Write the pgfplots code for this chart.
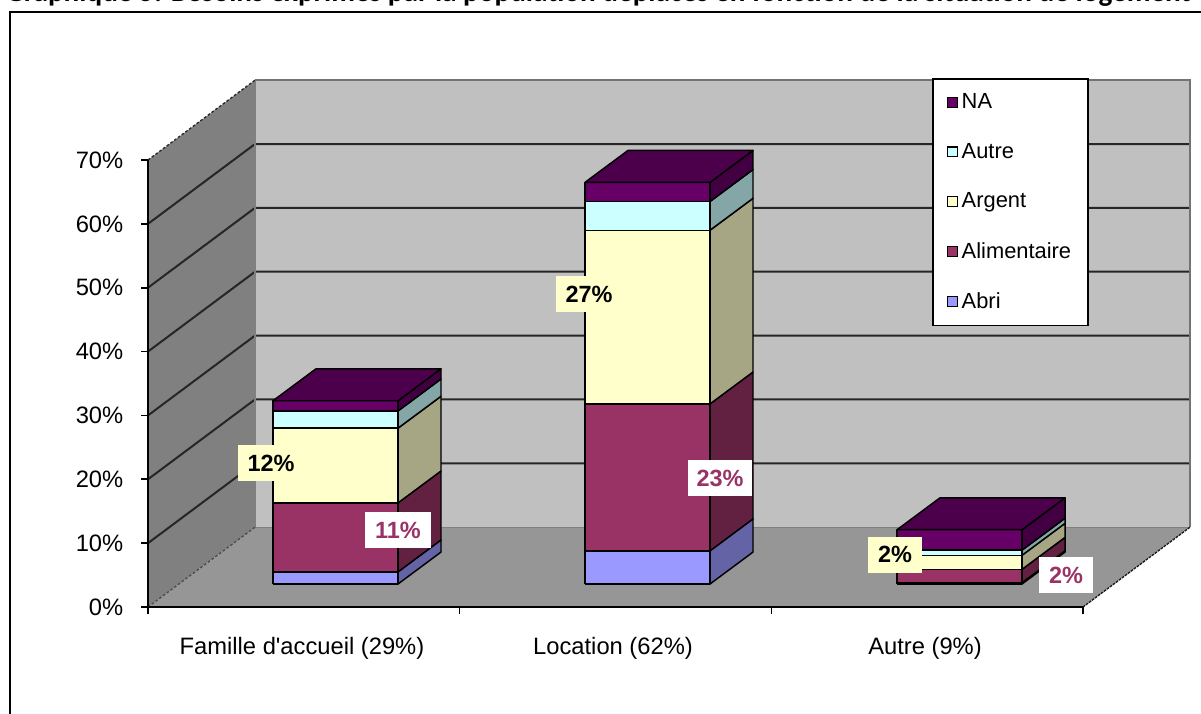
\documentclass[border=0pt]{standalone}
\usepackage{fontspec}
\setmainfont{Liberation Sans}
\newfontfamily\titlefont{Carlito}
\usepackage{pgfplots}
\pgfplotsset{compat=1.18}

\definecolor{abri}{HTML}{9999FF}
\definecolor{alim}{HTML}{993366}
\definecolor{argent}{HTML}{FFFFCC}
\definecolor{autre}{HTML}{CCFFFF}
\definecolor{na}{HTML}{660066}
\definecolor{wallback}{HTML}{C0C0C0}
\definecolor{wallleft}{HTML}{808080}
\definecolor{floorc}{HTML}{969696}

% y data are percents, x data are pixels of the reference
\newcommand{\seg}[4]{%
  \addplot[fill=#4!65!black, draw=black, line width=1.1pt, line join=round, forget plot] coordinates {
    ({#1+125},{#2+3.6}) ({#1+168},{#2+8.6}) ({#1+168},{#3+8.6}) ({#1+125},{#3+3.6}) ({#1+125},{#2+3.6})};
  \addplot[fill=#4, draw=black, line width=1.1pt, line join=round, forget plot] coordinates {
    (#1,{#2+3.6}) ({#1+125},{#2+3.6}) ({#1+125},{#3+3.6}) (#1,{#3+3.6}) (#1,{#2+3.6})};
}
\newcommand{\topface}[2]{%
  \addplot[fill=na!75!black, draw=black, line width=1.1pt, line join=round, forget plot] coordinates {
    (#1,{#2+3.6}) ({#1+125},{#2+3.6}) ({#1+168},{#2+8.6}) ({#1+43},{#2+8.6}) (#1,{#2+3.6})};
}

\begin{document}
\begin{tikzpicture}[x=0.75pt,y=0.75pt]
\path[use as bounding box] (0,0) rectangle (1201,713);
\draw[black, line width=1.6pt] (10,-5) -- (10,701) -- (1210,701);
\node[anchor=base west, inner sep=0pt, font=\titlefont\bfseries\fontsize{21.9pt}{24pt}\selectfont] at (5,711)
  {Graphique 5: Besoins exprimés par la population déplacés en fonction de la situation de logement};
\begin{axis}[
    at={(111pt,79.5pt)}, anchor=origin,
    scale only axis,
    width=701.25pt, height=335.25pt,
    xmin=148, xmax=1083,
    ymin=0, ymax=70,
    clip=false,
    axis on top,
    axis lines=left,
    axis line style={-, black, line width=1.2pt},
    tick style={black, line width=1.2pt},
    tick align=outside,
    major tick length=5pt,
    xtick={148,459.67,771.33,1083},
    xticklabels={},
    extra x ticks={302,613,925},
    extra x tick labels={Famille d\textquotesingle accueil (29\%),Location (62\%),Autre (9\%)},
    extra x tick style={major tick length=0pt, tick style={draw=none},
      xticklabel style={yshift=-19.5pt}},
    ytick={0,10,...,70},
    yticklabels={0\%,10\%,20\%,30\%,40\%,50\%,60\%,70\%},
    yticklabel style={xshift=-10pt},
    tick label style={font=\fontsize{17.8pt}{20pt}\selectfont},
    legend style={at={(axis cs:932,82.8)}, anchor=north west, draw=black, line width=1.2pt,
      fill=white, font=\fontsize{16.4pt}{19pt}\selectfont, inner xsep=10.5pt, inner ysep=9pt,
      row sep=20.4pt, cells={anchor=west}, legend cell align=left},
    legend image code/.code={\path (0pt,0pt) -- (8pt,0pt);\draw[#1, draw=black, line width=1pt] (0pt,-3.7pt) rectangle (7.4pt,3.7pt);},
  ]
% walls and floor
\addplot[fill=wallleft, draw=none, forget plot] coordinates {(148,0) (255,12.5) (255,82.5) (148,70) (148,0)};
\addplot[fill=wallback, draw=none, forget plot] coordinates {(255,12.5) (1190,12.5) (1190,82.5) (255,82.5) (255,12.5)};
\addplot[fill=floorc, draw=none, forget plot] coordinates {(148,0) (1083,0) (1190,12.5) (255,12.5) (148,0)};
% grid lines on the walls
\pgfplotsinvokeforeach{10,20,30,40,50,60}{
  \addplot[black!85, line width=1.5pt, forget plot] coordinates {(148,#1) (255,{#1+12.5}) (1190,{#1+12.5})};
}
\addplot[black!55, line width=1.5pt, forget plot] coordinates {(255,82.5) (1190,82.5) (1190,12.5)};
\addplot[black!50, line width=.8pt, forget plot] coordinates {(255,82.5) (255,12.5) (1190,12.5)};
\addplot[black!85, line width=1pt, dash pattern=on 2pt off 1.5pt, forget plot] coordinates {(148,70) (255,82.5)};
\addplot[black!70, line width=1pt, dash pattern=on 2pt off 1.5pt, forget plot] coordinates {(148,0) (255,12.5)};
\addplot[black!90, line width=1pt, dash pattern=on 2pt off .8pt, forget plot] coordinates {(1083,0) (1190,12.5)};
% Famille d'accueil
\seg{273}{0}{1.9}{abri}
\seg{273}{1.9}{12.7}{alim}
\seg{273}{12.7}{24.4}{argent}
\seg{273}{24.4}{27.1}{autre}
\seg{273}{27.1}{28.7}{na}
\topface{273}{28.7}
% Location
\seg{585}{0}{5.2}{abri}
\seg{585}{5.2}{28.2}{alim}
\seg{585}{28.2}{55.4}{argent}
\seg{585}{55.4}{59.9}{autre}
\seg{585}{59.9}{62.9}{na}
\topface{585}{62.9}
% Autre
\seg{897}{0}{0.2}{abri}
\seg{897}{0.2}{2.3}{alim}
\seg{897}{2.3}{4.5}{argent}
\seg{897}{4.5}{5.3}{autre}
\seg{897}{5.3}{8.5}{na}
\topface{897}{8.5}
% legend, top to bottom as in the chart
\addlegendimage{fill=na}\addlegendentry{NA}
\addlegendimage{fill=autre}\addlegendentry{Autre}
\addlegendimage{fill=argent}\addlegendentry{Argent}
\addlegendimage{fill=alim}\addlegendentry{Alimentaire}
\addlegendimage{fill=abri}\addlegendentry{Abri}
% data labels
\tikzset{lab/.style={inner sep=0pt, minimum width=49.5pt, minimum height=27pt, align=center,
  font=\bfseries\fontsize{17.6pt}{20pt}\selectfont}}
\node[lab, fill=argent, text=black] at (axis cs:271,22.5) {12\%};
\node[lab, fill=white, text=alim] at (axis cs:398,12.0) {11\%};
\node[lab, fill=argent, text=black] at (axis cs:589,49.0) {27\%};
\node[lab, fill=white, text=alim, minimum width=48pt] at (axis cs:720,20.2) {23\%};
\node[lab, fill=argent, text=black, minimum width=40pt] at (axis cs:895,8.2) {2\%};
\node[lab, fill=white, text=alim, minimum width=40pt] at (axis cs:1066,5.0) {2\%};
\end{axis}
\end{tikzpicture}
\end{document}
